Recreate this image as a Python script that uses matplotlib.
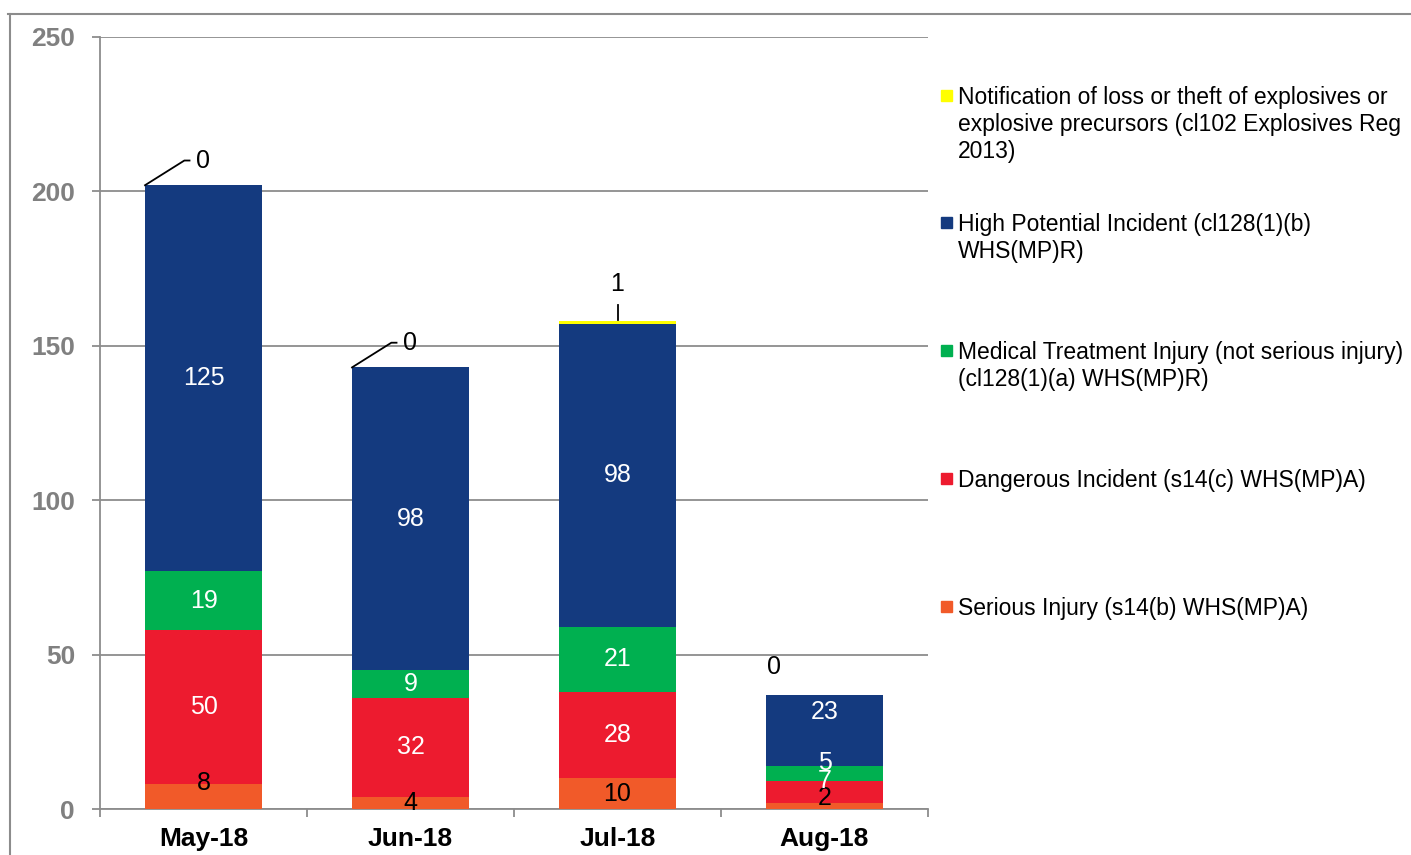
import numpy as np
import matplotlib
matplotlib.use("Agg")
import matplotlib.pyplot as plt
from matplotlib.patches import Rectangle
from matplotlib.lines import Line2D

plt.rcParams['font.family'] = ['Liberation Sans', 'DejaVu Sans']

months = ["May-18", "Jun-18", "Jul-18", "Aug-18"]
serious = [8, 4, 10, 2]
dangerous = [50, 32, 28, 7]
medical = [19, 9, 21, 5]
high_pot = [125, 98, 98, 23]
notification = [0, 0, 1, 0]

series_names = [
    "Notification of loss or theft of explosives or\nexplosive precursors (cl102 Explosives Reg\n2013)",
    "High Potential Incident (cl128(1)(b)\nWHS(MP)R)",
    "Medical Treatment Injury (not serious injury)\n(cl128(1)(a) WHS(MP)R)",
    "Dangerous Incident (s14(c) WHS(MP)A)",
    "Serious Injury (s14(b) WHS(MP)A)",
]

c_orange = "#F15A29"
c_red = "#ED1B2F"
c_green = "#00B050"
c_navy = "#143A7F"
c_yellow = "#FFFF00"
grey = "#8C8C8C"

W, H = 1411, 855
fig = plt.figure(figsize=(W / 100, H / 100), dpi=100)
ax = fig.add_axes([100 / W, 1 - 809 / H, 828 / W, 772 / H])

x = np.arange(len(months))
bw = 0.565
stack = [(serious, c_orange, "black"), (dangerous, c_red, "white"),
         (medical, c_green, "white"), (high_pot, c_navy, "white")]
bottom = np.zeros(len(months))
# small nudges where Excel shifted crowded labels (Aug column)
nudge = {(0, 3): 2.5, (1, 3): 3.5, (2, 3): 3.5, (3, 3): 6.0, (0, 0): 4.5}
for k, (vals, col, tcol) in enumerate(stack):
    vals = np.array(vals, dtype=float)
    ax.bar(x, vals, bw, bottom=bottom, color=col, zorder=3, linewidth=0)
    for i, v in enumerate(vals):
        yy = bottom[i] + v / 2 + nudge.get((k, i), 0)
        ax.text(x[i], yy, "%d" % v, ha="center", va="center", color=tcol,
                fontsize=18, zorder=5)
    bottom += vals
ax.bar(x, notification, bw, bottom=bottom, color=c_yellow, zorder=3, linewidth=0)

# labels for the top (notification) series
for i, v in enumerate(notification):
    top = bottom[i] + v
    if i in (0, 1):
        x0 = x[i] - bw / 2
        ax.plot([x0, x0 + 0.19, x0 + 0.215], [top, top + 8, top + 8],
                color="black", lw=1.3, zorder=6, clip_on=False)
        ax.text(x0 + 0.245, top + 8, "%d" % v, ha="left", va="center",
                fontsize=18, zorder=6)
    elif i == 2:
        ax.plot([x[i], x[i]], [top + 0.5, top + 5.3], color="black", lw=1.3,
                zorder=6)
        ax.text(x[i], top + 12, "%d" % v, ha="center", va="center", fontsize=18)
    else:
        ax.text(x[i] - 0.245, top + 9, "%d" % v, ha="center", va="center",
                fontsize=18)

ax.set_xlim(-0.5, 3.5)
ax.set_ylim(0, 250)
ax.set_yticks(np.arange(0, 251, 50))
ax.yaxis.grid(True, color=grey, lw=1.3, zorder=0)
ax.set_axisbelow(True)
for s in ["top", "right"]:
    ax.spines[s].set_visible(False)
ax.spines["left"].set_color(grey)
ax.spines["bottom"].set_color(grey)
ax.spines["left"].set_linewidth(1.3)
ax.spines["bottom"].set_linewidth(1.3)

ax.set_xticks(x)
ax.set_xticklabels(months, fontsize=19, fontweight="bold")
ax.set_xticks(np.arange(-0.5, 4, 1), minor=True)
ax.tick_params(axis="x", which="major", length=0, pad=13)
ax.tick_params(axis="x", which="minor", length=6, width=1.3, color=grey)
ax.tick_params(axis="y", length=6, width=1.3, color=grey, labelcolor="#808080",
               labelsize=19, pad=12)
for t in ax.get_yticklabels():
    t.set_fontweight("bold")

# legend drawn by hand on the right
colors = [c_yellow, c_navy, c_green, c_red, c_orange]
leg_y = [95, 222, 350, 478, 606]
for name, col, yy in zip(series_names, colors, leg_y):
    fig.patches.append(Rectangle((941 / W, 1 - (yy + 6) / H), 11 / W, 11 / H,
                                 transform=fig.transFigure, color=col))
    fig.text(958 / W, 1 - (yy - 9) / H, name, fontsize=16.5, va="top",
             ha="left", linespacing=1.22)

# outer frame (clipped chart area)
fig.add_artist(Line2D([8 / W, 1], [1 - 14 / H] * 2, color=grey, lw=1.5,
                      transform=fig.transFigure))
fig.add_artist(Line2D([10 / W] * 2, [1 - 14 / H, 0], color=grey, lw=1.5,
                      transform=fig.transFigure))

fig.savefig("out.png", dpi=100)
